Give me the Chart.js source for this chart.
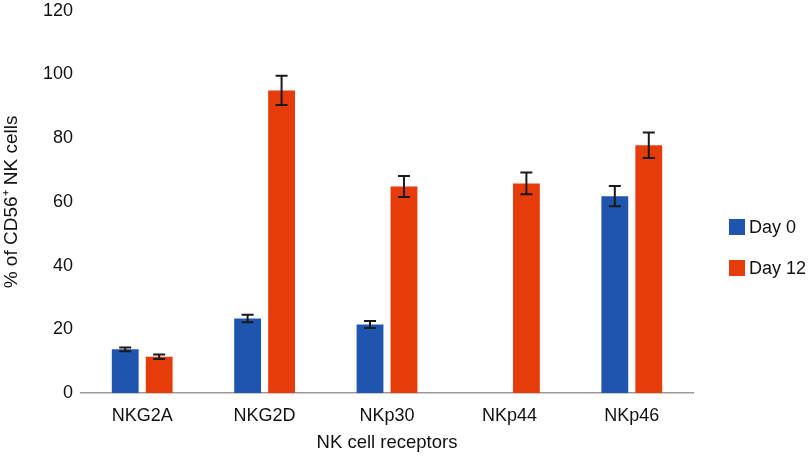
<!DOCTYPE html>
<html>
<head>
<meta charset="utf-8">
<script src="https://cdn.jsdelivr.net/npm/chart.js@4/dist/chart.umd.min.js"></script>
<style>
  html, body { margin: 0; padding: 0; background: #fff; }
  #wrap { width: 810px; height: 458px; }
</style>
</head>
<body>
<div id="wrap"><canvas id="chart" width="810" height="458"></canvas></div>
<script>
// receptor data
const receptors = ['NKG2A', 'NKG2D', 'NKp30', 'NKp44', 'NKp46'];
const day0 = [13.7, 23.4, 21.5, null, 61.8];
const day0Err = [0.6, 1.2, 1.1, 0, 3.2];
const day12 = [11.4, 95.0, 64.8, 65.8, 77.8];
const day12Err = [0.7, 4.6, 3.3, 3.4, 4.0];
const yTicks = [0, 20, 40, 60, 80, 100, 120];

const FONT = "'Liberation Sans', Arial, sans-serif";

// draws the black error bars on top of each bar
const errorBars = {
  id: 'errorBars',
  afterDatasetsDraw(chart) {
    const ctx = chart.ctx;
    const y = chart.scales.y;
    chart.data.datasets.forEach((ds, i) => {
      const meta = chart.getDatasetMeta(i);
      meta.data.forEach((bar, j) => {
        const v = ds.data[j];
        const e = ds.errors[j];
        if (v == null || !e) return;
        const top = y.getPixelForValue(v + e);
        const bot = y.getPixelForValue(v - e);
        ctx.save();
        ctx.strokeStyle = '#1a1a1a';
        ctx.lineWidth = 2;
        ctx.beginPath();
        ctx.moveTo(bar.x, top); ctx.lineTo(bar.x, bot);
        ctx.moveTo(bar.x - 6, top); ctx.lineTo(bar.x + 6, top);
        ctx.moveTo(bar.x - 6, bot); ctx.lineTo(bar.x + 6, bot);
        ctx.stroke();
        ctx.restore();
      });
    });
  }
};

// legend on the right, drawn by hand so it sits where the original one does
const sideLegend = {
  id: 'sideLegend',
  afterDraw(chart) {
    const ctx = chart.ctx;
    const x = chart.chartArea.right + 36;
    ctx.save();
    ctx.font = '18px ' + FONT;
    ctx.textBaseline = 'middle';
    chart.data.datasets.forEach((ds, i) => {
      const cy = 227 + i * 41;
      ctx.fillStyle = ds.backgroundColor;
      ctx.fillRect(x, cy - 8, 16, 16);
      ctx.fillStyle = '#111';
      ctx.fillText(ds.label, x + 20, cy + 1);
    });
    ctx.restore();
  }
};

new Chart(document.getElementById('chart'), {
  type: 'bar',
  data: {
    labels: receptors,
    datasets: [
      { label: 'Day 0', data: day0, errors: day0Err, backgroundColor: '#1F55AE' },
      { label: 'Day 12', data: day12, errors: day12Err, backgroundColor: '#E63B0B' }
    ]
  },
  options: {
    responsive: false,
    animation: false,
    categoryPercentage: 0.555,
    barPercentage: 0.79,
    layout: { padding: { top: 7, left: 0, right: 117, bottom: 0 } },
    plugins: {
      tooltip: { enabled: false },
      legend: { display: false }
    },
    scales: {
      x: {
        grid: { display: false },
        border: { color: '#9a9a9a', width: 1.5 },
        ticks: { font: { family: FONT, size: 18 }, color: '#111', padding: 4 },
        title: { display: true, text: 'NK cell receptors', font: { family: FONT, size: 18.5 }, color: '#111', padding: { top: 6 } },
        afterFit(s) { s.height = 65; }
      },
      y: {
        min: 0,
        max: 120,
        grid: { display: false },
        border: { display: false },
        afterBuildTicks(s) { s.ticks = yTicks.map(v => ({ value: v })); },
        ticks: { font: { family: FONT, size: 18 }, color: '#111', padding: 0 },
        title: { display: true, text: '% of CD56\u207A NK cells', font: { family: FONT, size: 19 }, color: '#111', padding: { top: 0, bottom: 0 } },
        afterFit(s) { s.width = 81; }
      }
    }
  },
  plugins: [errorBars, sideLegend]
});
</script>
</body>
</html>
